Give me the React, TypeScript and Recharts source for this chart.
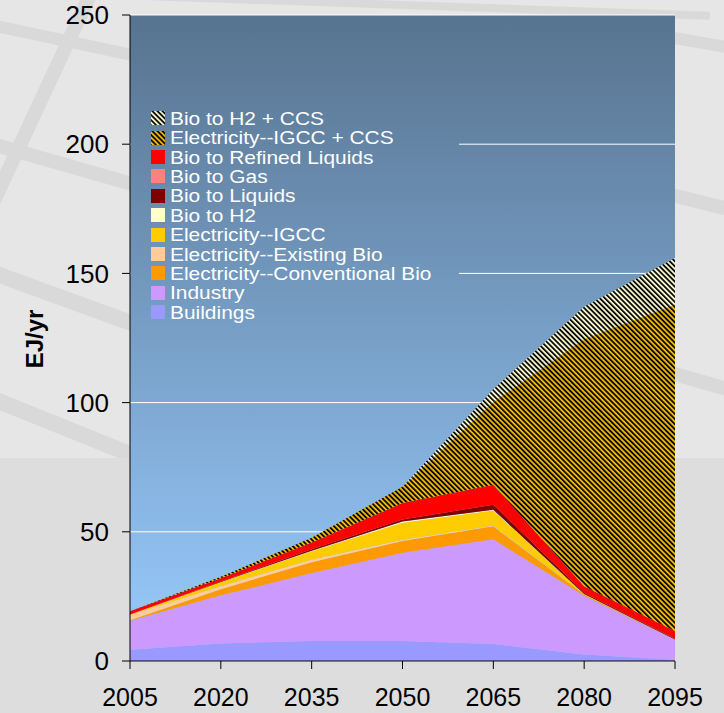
import React from 'react';
import { AreaChart, Area, XAxis, YAxis, CartesianGrid } from 'recharts';

const years = ['2005', '2020', '2035', '2050', '2065', '2080', '2095'];

const buildings = [4.4, 6.8, 7.7, 7.7, 6.6, 2.5, 0.5];
const industry = [11.2, 18.6, 26.4, 34.2, 40.5, 22.8, 7.8];
const convBio = [0.2, 2.4, 4.1, 4.5, 5.0, 0.3, 0];
const existingBio = [2.0, 1.2, 1.1, 0.5, 0.3, 0, 0];
const igcc = [0.2, 1.6, 3.2, 6.6, 5.8, 0.3, 0];
const bioH2 = [0, 0, 0.2, 0.5, 0.3, 0, 0];
const bioLiquids = [0, 0.2, 0.5, 0.8, 2.0, 0.5, 0.3];
const bioGas = [0, 0, 0, 0, 0, 0, 0];
const refinedLiquids = [1.3, 1.2, 2.7, 6.3, 7.7, 2.5, 3.0];
const igccCcs = [0, 0.6, 1.8, 6.3, 32, 95.7, 126.4];
const bioH2Ccs = [0, 0, 0, 0, 5, 12.5, 18];

const yTicks = [0, 50, 100, 150, 200, 250];

// bottom of the stack first
const series = [
  { key: 'buildings', name: 'Buildings', values: buildings, fill: '#9999FF' },
  { key: 'industry', name: 'Industry', values: industry, fill: '#CC99FF' },
  { key: 'convBio', name: 'Electricity--Conventional Bio', values: convBio, fill: '#FF9900' },
  { key: 'existingBio', name: 'Electricity--Existing Bio', values: existingBio, fill: '#FFCC99' },
  { key: 'igcc', name: 'Electricity--IGCC', values: igcc, fill: '#FFCC00' },
  { key: 'bioH2', name: 'Bio to H2', values: bioH2, fill: '#FFFFCC' },
  { key: 'bioLiquids', name: 'Bio to Liquids', values: bioLiquids, fill: '#800000' },
  { key: 'bioGas', name: 'Bio to Gas', values: bioGas, fill: '#FF8080' },
  { key: 'refined', name: 'Bio to Refined Liquids', values: refinedLiquids, fill: '#FF0000' },
  { key: 'igccCcs', name: 'Electricity--IGCC + CCS', values: igccCcs, fill: 'url(#stripeGold)' },
  { key: 'bioH2Ccs', name: 'Bio to H2 + CCS', values: bioH2Ccs, fill: 'url(#stripeCream)' },
];

const data = years.map((year, i) => {
  const row: any = { year };
  series.forEach((s) => {
    row[s.key] = s.values[i];
  });
  return row;
});

const font = '"Liberation Sans", Arial, sans-serif';
const plotTop = 15;
const plotHeight = 646;
const gradTop = '#57738F';
const gradBottom = '#99CCFF';

const bands = [
  { left: -40, top: 40, width: 260, height: 12, rot: 12 },
  { left: -40, top: 165, width: 260, height: 14, rot: 16 },
  { left: -40, top: 300, width: 260, height: 16, rot: 20 },
  { left: -40, top: 430, width: 260, height: 16, rot: 22 },
  { left: 20, top: -20, width: 14, height: 300, rot: 25 },
  { left: 660, top: 40, width: 120, height: 12, rot: 10 },
  { left: 660, top: 200, width: 120, height: 14, rot: 14 },
  { left: 660, top: 380, width: 120, height: 14, rot: 16 },
  { left: 150, top: 2, width: 560, height: 8, rot: 2 },
];

function Swatch({ fill }: { fill: string }) {
  return (
    <svg width={14} height={14} style={{ marginRight: 5, flex: 'none' }}>
      <rect width={14} height={14} fill={fill} />
    </svg>
  );
}

export default function App() {
  return (
    <div
      style={{
        position: 'absolute',
        left: 0,
        top: 0,
        width: 724,
        height: 713,
        background: '#DDDDDD',
        overflow: 'hidden',
        fontFamily: font,
      }}
    >
      <div style={{ position: 'absolute', left: 0, top: 0, width: 724, height: 458, background: '#E6E6E6', overflow: 'hidden' }}>
        {bands.map((b, i) => (
          <div
            key={i}
            style={{
              position: 'absolute',
              left: b.left,
              top: b.top,
              width: b.width,
              height: b.height,
              background: '#D9D9D9',
              transform: `rotate(${b.rot}deg)`,
            }}
          />
        ))}
      </div>

      <div style={{ position: 'absolute', left: 0, top: 0 }}>
        <AreaChart width={724} height={713} data={data} margin={{ top: 15, right: 49, bottom: 0, left: 70 }}>
          <defs>
            <linearGradient id="plotBg" x1="0" y1="0" x2="0" y2="1">
              <stop offset="0%" stopColor={gradTop} />
              <stop offset="100%" stopColor={gradBottom} />
            </linearGradient>
            <pattern id="stripeGold" patternUnits="userSpaceOnUse" width="3.6" height="3.6" patternTransform="rotate(-45)">
              <rect width="3.6" height="3.6" fill="#EDB500" />
              <rect width="1.7" height="3.6" fill="#000000" />
            </pattern>
            <pattern id="stripeCream" patternUnits="userSpaceOnUse" width="3.6" height="3.6" patternTransform="rotate(-45)">
              <rect width="3.6" height="3.6" fill="#F4F4CC" />
              <rect width="1.7" height="3.6" fill="#000000" />
            </pattern>
          </defs>
          <CartesianGrid vertical={false} stroke="#FFFFFF" fill="url(#plotBg)" fillOpacity={1} />
          <XAxis
            dataKey="year"
            interval={0}
            height={52}
            tickSize={8}
            tickMargin={19}
            axisLine={{ stroke: '#000' }}
            tickLine={{ stroke: '#000' }}
            tick={{ fill: '#000', fontSize: 25, fontFamily: font }}
          />
          <YAxis
            domain={[0, 250]}
            ticks={yTicks}
            width={60}
            tickSize={8}
            tickMargin={13}
            axisLine={{ stroke: '#000' }}
            tickLine={{ stroke: '#000' }}
            tick={{ fill: '#000', fontSize: 26, fontFamily: font }}
          />
          {series.map((s) => (
            <Area
              key={s.key}
              type="linear"
              dataKey={s.key}
              name={s.name}
              stackId="1"
              stroke="none"
              fill={s.fill}
              fillOpacity={1}
              dot={false}
              activeDot={false}
              isAnimationActive={false}
            />
          ))}
        </AreaChart>
      </div>

      <div
        style={{
          position: 'absolute',
          left: 35,
          top: 339,
          transform: 'translate(-50%, -50%) rotate(-90deg)',
          fontSize: 24,
          fontWeight: 'bold',
          color: '#000',
          whiteSpace: 'nowrap',
        }}
      >
        EJ/yr
      </div>

      <div
        style={{
          position: 'absolute',
          left: 131,
          top: 100,
          width: 328,
          height: 232,
          backgroundImage: `linear-gradient(to bottom, ${gradTop}, ${gradBottom})`,
          backgroundSize: `100% ${plotHeight}px`,
          backgroundPosition: `0 ${plotTop - 100}px`,
          backgroundRepeat: 'no-repeat',
          paddingTop: 8.6,
          boxSizing: 'border-box',
        }}
      >
        {series
          .slice()
          .reverse()
          .map((s) => (
            <div
              key={s.key}
              style={{
                display: 'flex',
                alignItems: 'center',
                height: 19.4,
                paddingLeft: 20,
                color: '#FFFFFF',
                whiteSpace: 'nowrap',
              }}
            >
              <Swatch fill={s.fill} />
              <span
                style={{
                  display: 'inline-block',
                  fontSize: 18.5,
                  lineHeight: '19px',
                  transform: 'scaleX(1.13)',
                  transformOrigin: 'left center',
                }}
              >
                {s.name}
              </span>
            </div>
          ))}
      </div>
    </div>
  );
}
